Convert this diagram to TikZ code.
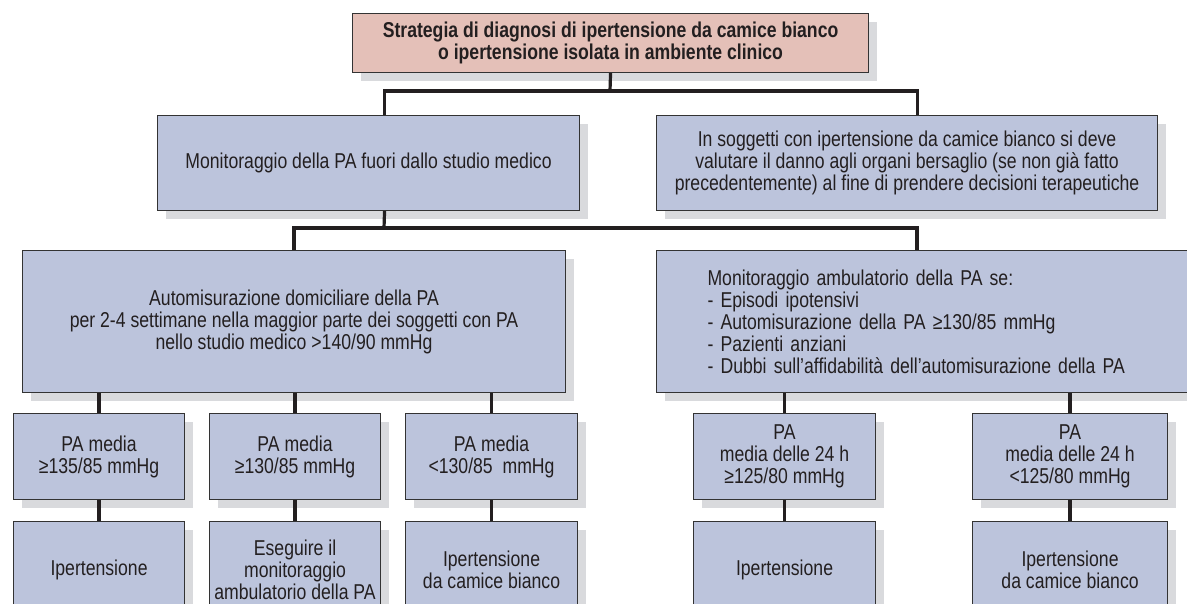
\documentclass[tikz,border=0pt]{standalone}
\usepackage{fontspec}
\setmainfont{Liberation Sans}[FakeStretch=0.82]
\usetikzlibrary{shadows}
\definecolor{boxfill}{HTML}{BCC4DC}
\definecolor{titlefill}{HTML}{E4C0B8}
\definecolor{shadowgray}{HTML}{D9DADD}
\definecolor{edge}{HTML}{333333}
\definecolor{ink}{HTML}{231F20}
\begin{document}
\begin{tikzpicture}[x=1pt,y=-1pt,
  box/.style={draw=edge, line width=1.1pt, fill=boxfill, anchor=north west,
    inner sep=0pt, align=center, text=ink,
    font=\fontsize{21.5}{22}\selectfont,
    general shadow={fill=shadowgray, shadow xshift=8pt, shadow yshift=-8pt}},
  conn/.style={draw=ink, line width=3.2pt, line join=miter},
]
\useasboundingbox (0,0) rectangle (1187,603);
\fill[white] (0,0) rectangle (1187,603);

% title
\node[box, fill=titlefill, minimum width=516pt, minimum height=59pt,
  font=\fontsize{21.5}{21.5}\selectfont\bfseries] (title) at (352,13)
  {Strategia di diagnosi di ipertensione da camice bianco\\o ipertensione isolata in ambiente clinico};

% second level
\node[box, minimum width=422pt, minimum height=95pt] (outside) at (157,115)
  {Monitoraggio della PA fuori dallo studio medico};
\node[box, minimum width=501pt, minimum height=95pt] (organs) at (656,115)
  {In soggetti con ipertensione da camice bianco si deve\\valutare il danno agli organi bersaglio (se non già fatto\\precedentemente) al fine di prendere decisioni terapeutiche};

% third level
\node[box, minimum width=543pt, minimum height=142pt] (home) at (22,250)
  {Automisurazione domiciliare della PA\\per 2-4 settimane nella maggior parte dei soggetti con PA\\nello studio medico >140/90 mmHg};
\node[box, minimum height=142pt, text width=470pt,
  inner xsep=51pt, align=left] (abpm) at (656,250)
  {Monitoraggio ambulatorio della PA se:\\- Episodi ipotensivi\\- Automisurazione della PA ≥130/85 mmHg\\- Pazienti anziani\\- Dubbi sull’affidabilità dell’automisurazione della PA};

% mean values
\node[box, minimum width=171pt, minimum height=86pt] (hA) at (13,413) {PA media\\≥135/85 mmHg};
\node[box, minimum width=171pt, minimum height=86pt] (hB) at (209,413) {PA media\\≥130/85 mmHg};
\node[box, minimum width=172pt, minimum height=86pt] (hC) at (405,413) {PA media\\<130/85~ mmHg};
\node[box, minimum width=182pt, minimum height=86pt] (aA) at (693,413) {PA\\media delle 24 h\\≥125/80 mmHg};
\node[box, minimum width=195pt, minimum height=86pt] (aB) at (972,413) {PA\\media delle 24 h\\<125/80 mmHg};

% outcomes (their lower edge lies below the page)
\node[box, minimum width=171pt, minimum height=96pt] (oA) at (13,521) {Ipertensione};
\node[box, minimum width=171pt, minimum height=96pt] (oB) at (209,521) {Eseguire il\\monitoraggio\\ambulatorio della PA};
\node[box, minimum width=172pt, minimum height=96pt] (oC) at (405,521) {Ipertensione\\da camice bianco};
\node[box, minimum width=182pt, minimum height=96pt] (oD) at (693,521) {Ipertensione};
\node[box, minimum width=195pt, minimum height=96pt] (oE) at (972,521) {Ipertensione\\da camice bianco};

% connectors
\coordinate (bus1) at (610,91);
\coordinate (bus2) at (384,228);
\draw[conn] (title.south) -- (bus1);
\draw[conn] ([xshift=16pt]outside.north) |- (bus1) -| ([xshift=10.5pt]organs.north);
\draw[conn] ([xshift=16pt]outside.south) -- (bus2);
\draw[conn] (home.north) |- (bus2) -| ([xshift=261pt]abpm.north west);
\foreach \n/\o in {hA/oA, hB/oB, hC/oC}{
  \draw[conn] (\n.north |- home.south) -- (\n.north);
  \draw[conn] (\n.south) -- (\o.north);
}
\foreach \n/\o in {aA/oD, aB/oE}{
  \draw[conn] (\n.north |- abpm.south) -- (\n.north);
  \draw[conn] (\n.south) -- (\o.north);
}
\end{tikzpicture}
\end{document}
